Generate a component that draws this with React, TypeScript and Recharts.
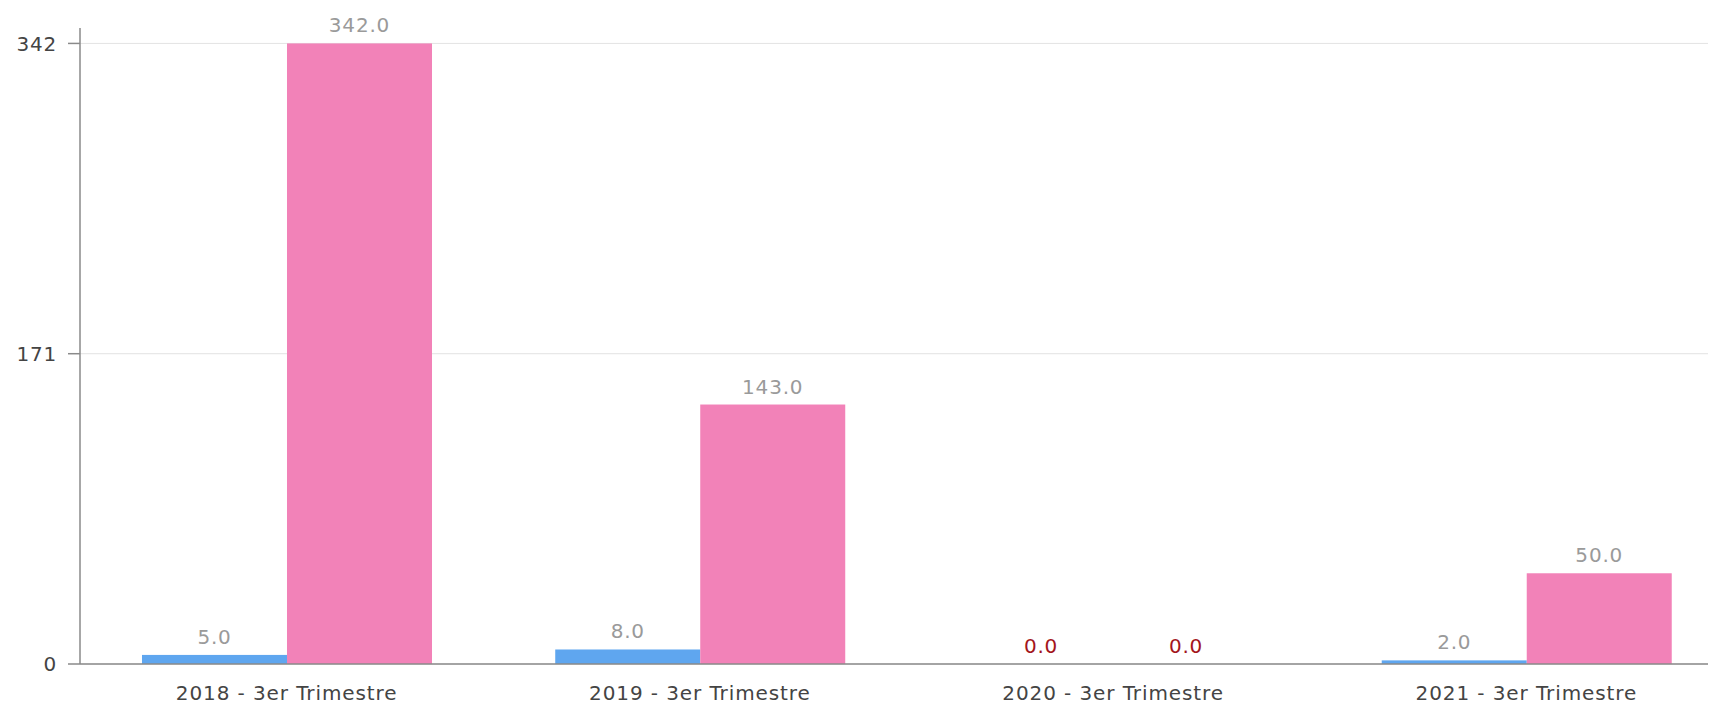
import React from "react";
import { BarChart, Bar, XAxis, YAxis, CartesianGrid } from "recharts";

const categories = ["2018 - 3er Trimestre", "2019 - 3er Trimestre", "2020 - 3er Trimestre", "2021 - 3er Trimestre"];
const seriesBlue = [5, 8, 0, 2];
const seriesPink = [342, 143, 0, 50];
const yTicks = [0, 171, 342];

const data = categories.map((c, i) => ({ name: c, a: seriesBlue[i], b: seriesPink[i] }));

const FONT = "'DejaVu Sans', sans-serif";

const makeShape = (key: "a" | "b", fill: string) => (props: any) => {
  const { x, y, width, height } = props;
  const v = Number(props.payload ? props.payload[key] : props.value);
  const h = Math.max(0, Number(height) || 0);
  const top = Number(y) + Math.min(0, Number(height) || 0);
  return (
    <g>
      {h > 0 && <rect x={x} y={top} width={width} height={h} fill={fill} />}
      <text
        x={Number(x) + Number(width) / 2}
        y={top - 11}
        textAnchor="middle"
        fontSize={20}
        fontFamily={FONT}
        letterSpacing={0.8}
        fill={v === 0 ? "#a3151b" : "#9a9a9a"}
      >
        {v.toFixed(1)}
      </text>
    </g>
  );
};

export default function App() {
  return (
    <div style={{ width: 1708, height: 701, overflow: "hidden" }}>
      <BarChart
        width={1725}
        height={701}
        data={data}
        margin={{ top: 20, right: 0, bottom: 0, left: 0 }}
        barCategoryGap="15%"
        barGap={0}
      >
        <CartesianGrid horizontal vertical={false} stroke="#e3e3e3" horizontalValues={yTicks} />
        <XAxis
          dataKey="name"
          height={45}
          tickLine={false}
          tickSize={10}
          tickMargin={12}
          axisLine={{ stroke: "#8a8a8a", strokeWidth: 1.5 }}
          tick={{ fill: "#444", fontSize: 20, fontFamily: FONT, letterSpacing: 0.9 }}
          interval={0}
        />
        <YAxis
          width={72}
          domain={[0, 350.5]}
          ticks={yTicks}
          tickSize={12}
          tickMargin={11}
          axisLine={{ stroke: "#8a8a8a", strokeWidth: 1.5 }}
          tickLine={{ stroke: "#8a8a8a", strokeWidth: 1.5 }}
          tick={{ fill: "#444", fontSize: 20, fontFamily: FONT, letterSpacing: 0.8 }}
        />
        <Bar dataKey="a" fill="#5fa6ef" isAnimationActive={false} shape={makeShape("a", "#5fa6ef")} />
        <Bar dataKey="b" fill="#f282b8" isAnimationActive={false} shape={makeShape("b", "#f282b8")} />
      </BarChart>
    </div>
  );
}
